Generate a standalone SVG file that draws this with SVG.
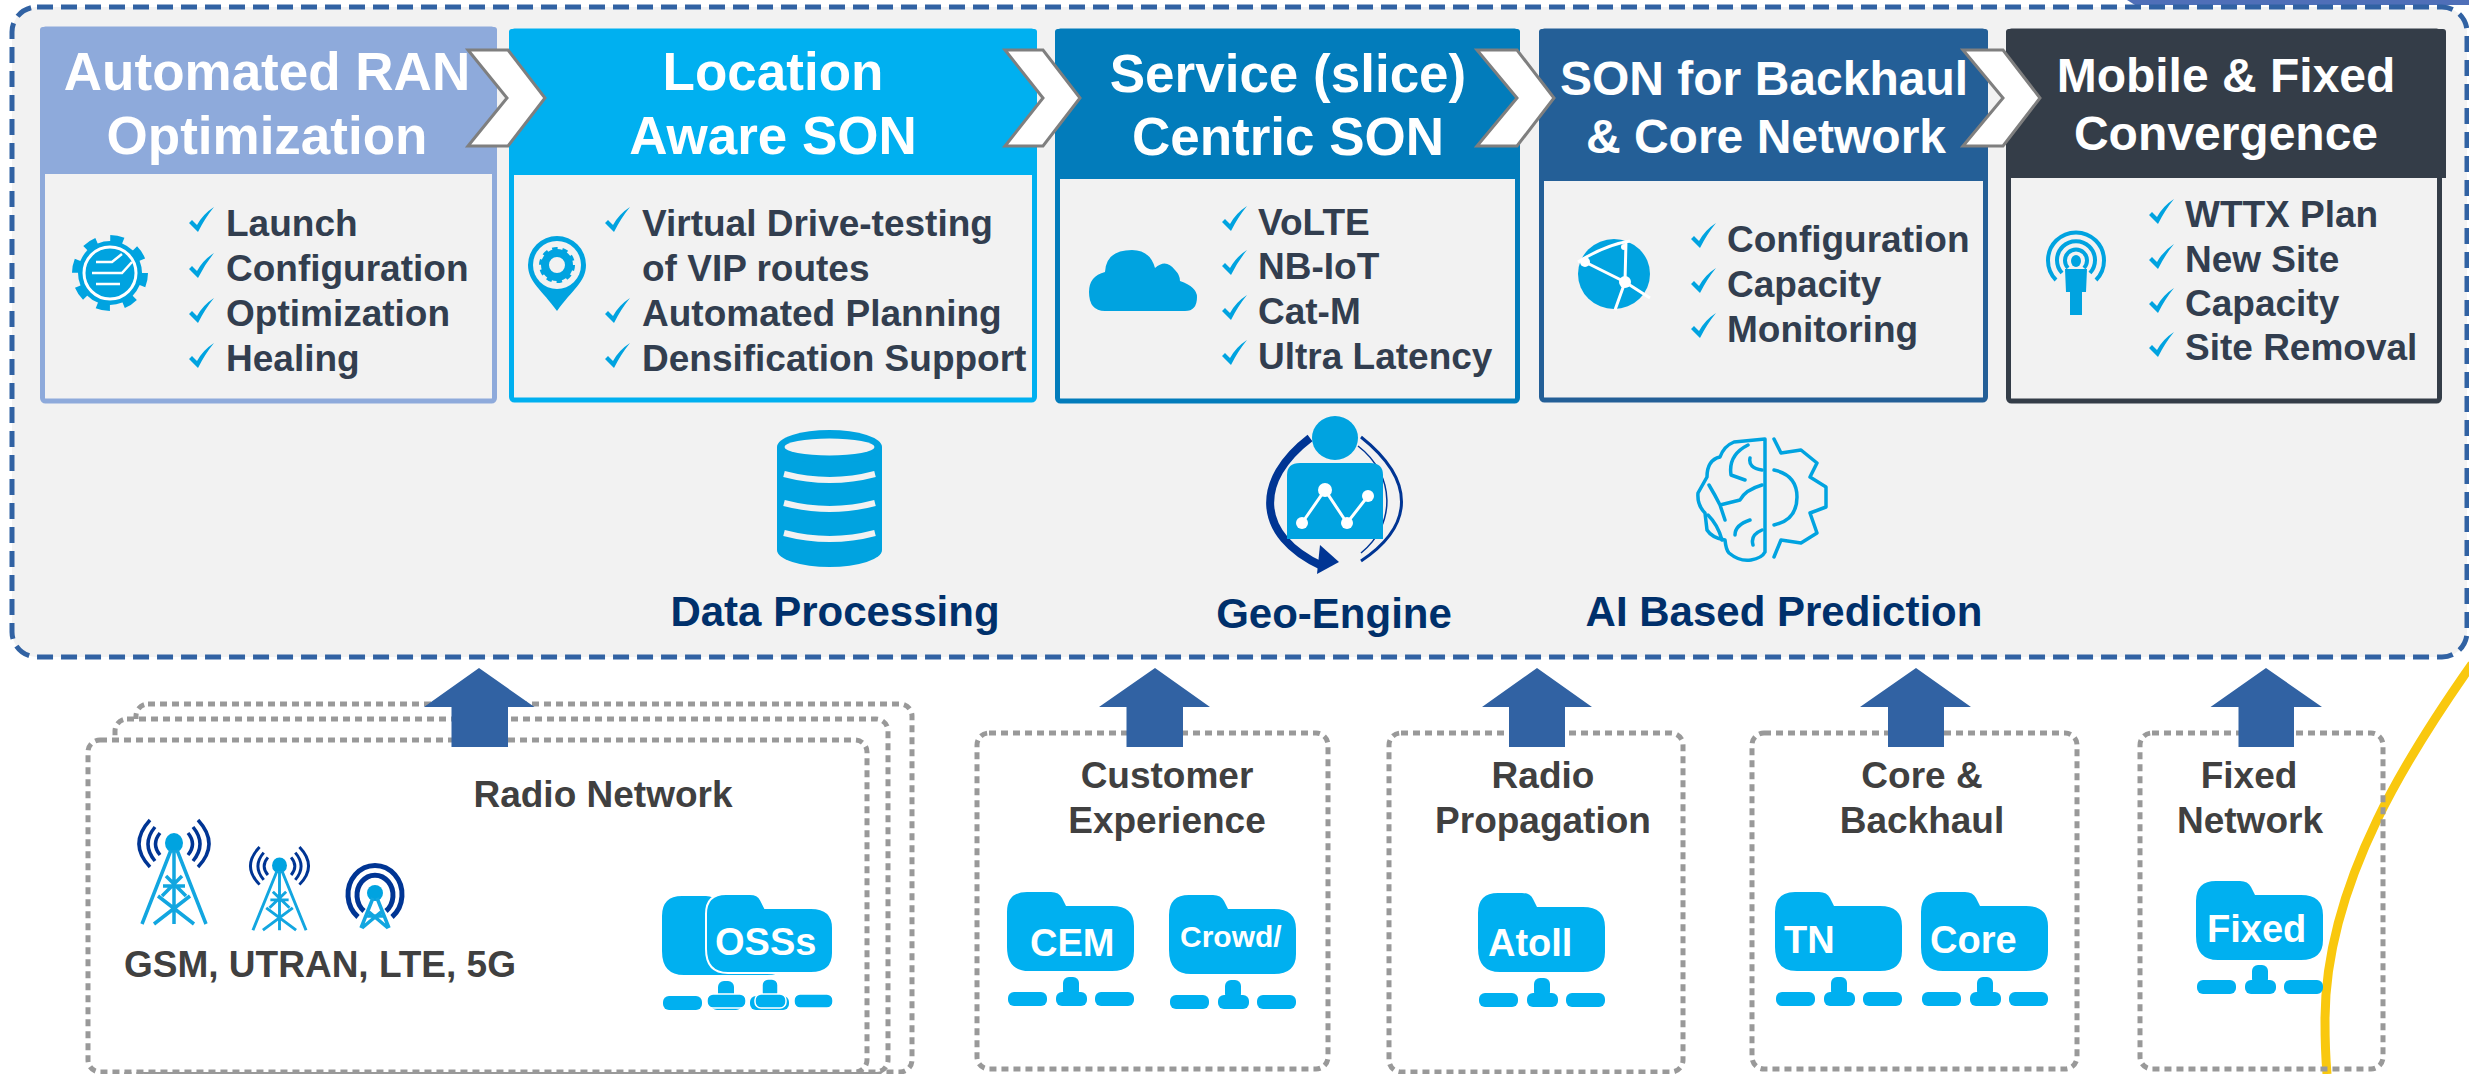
<svg xmlns="http://www.w3.org/2000/svg" xmlns:xlink="http://www.w3.org/1999/xlink" width="2469" height="1074" viewBox="0 0 2469 1074">
<style>
text{font-family:"Liberation Sans",Arial,sans-serif;font-weight:bold}
.t{fill:#fff;text-anchor:middle}
.s53{font-size:53px}.s49{font-size:48px}.s48{font-size:48px}
.li{font-size:37px;fill:#323E4F}
.lab{font-size:37px;fill:#404040;text-anchor:middle}
.mid{font-size:42px;fill:#00306B;text-anchor:middle}
.ft{font-size:38px;fill:#fff}
.box{fill:#fff;stroke:#999;stroke-width:5;stroke-dasharray:7 5}
.body{fill:#F2F2F2;stroke-width:5}
.chev{fill:#fff;stroke:#7F7F7F;stroke-width:3}
.arw{fill:#3162A3}
.blue{fill:#00A3E0}
.fold{fill:#00B0F0}
.ol{fill:none;stroke:#00A3E0;stroke-width:3.5;stroke-linejoin:round;stroke-linecap:round}
.dk{fill:none;stroke:#003594}
.wl{fill:none;stroke:#fff;stroke-width:3}
.tw{fill:none;stroke:#12A6E0;stroke-width:3.500}
</style>
<defs>
<path id="chk" fill="#00A3E0" d="M0 16L3 13L8 18Q14 7 25 0Q16 11 9 25Z"/>
<g id="folder" class="fold">
<path d="M0 20Q0 0 20 0H44Q52 0 55 6L59 14H105Q127 14 127 34V59Q127 79 105 79H22Q0 79 0 55Z"/>
</g>
<g id="bars" class="fold">
<rect x="1" y="100" width="39" height="14" rx="6"/><rect x="56" y="85" width="16" height="20" rx="6"/><rect x="49" y="100" width="31" height="14" rx="6"/><rect x="88" y="100" width="39" height="14" rx="6"/>
</g>
<g id="tower">
<path class="dk" stroke-width="3.5" d="M-24 0Q-46 24-24 47M-19 7Q-33 24-19 41M-14 13Q-23 24-14 35M24 0Q46 24 24 47M19 7Q33 24 19 41M14 13Q23 24 14 35"/>
<ellipse cx="0" cy="23" rx="9" ry="10" class="blue"/>
<path class="tw" d="M-3 30L-32 104M3 30L32 104M0 30V104M-11 66H11M-16 76L20 104M16 76L-20 104M-8 56L12 76M8 56L-12 76"/>
</g>
</defs>

<path d="M2127 0H2469V5H2135Z" fill="#4F6FB8"/>
<rect id="panel" x="12" y="7" width="2455" height="650" rx="25" fill="#F2F2F2" stroke="#3162A3" stroke-width="5" stroke-dasharray="16 8"/>
<path id="yellow-arc" d="M2472 664C2415 745 2325 880 2325 1020Q2325 1050 2327 1074" fill="none" stroke="#F9C80E" stroke-width="9"/>

<g id="card-ran">
<rect class="body" x="42.500" y="29" width="452" height="372" rx="3" stroke="#8EAADB"/>
<path d="M43 27H494Q497 27 497 30V174H40V30Q40 27 43 27Z" fill="#8EAADB"/>
<text class="t s53" x="267" y="90">Automated RAN</text><text class="t s53" x="267" y="154">Optimization</text>
<g id="icon-gear">
<circle cx="110" cy="273" r="34" fill="none" stroke="#00A3E0" stroke-width="8" stroke-dasharray="13 13.700"/>
<circle cx="110" cy="273" r="32" class="blue"/><circle cx="110" cy="273" r="26" fill="none" stroke="#fff" stroke-width="3"/>
<path fill="none" stroke="#fff" stroke-width="2.500" d="M96 262H112L122 254M92 273H122L132 262M96 284H120"/>
</g>
<g class="li"><text x="226" y="236">Launch</text><text x="226" y="281">Configuration</text><text x="226" y="326">Optimization</text><text x="226" y="371">Healing</text></g>
<use href="#chk" x="189" y="207"/><use href="#chk" x="189" y="253"/><use href="#chk" x="189" y="298"/><use href="#chk" x="189" y="343"/>
</g>

<g id="card-location">
<rect class="body" x="511.500" y="31" width="523" height="369" rx="3" stroke="#00B0F0"/>
<path d="M512 29H1034Q1037 29 1037 32V175H509V32Q509 29 512 29Z" fill="#00B0F0"/>
<text class="t s53" x="773" y="90">Location</text><text class="t s53" x="773" y="154">Aware SON</text>
<g id="icon-pin">
<path class="blue" d="M557 311C542 290 528 282 528 265A29 29 0 1 1 586 265C586 282 572 290 557 311Z"/>
<circle cx="557" cy="265" r="24" fill="#F2F2F2"/>
<circle cx="557" cy="265" r="15" fill="none" stroke="#00A3E0" stroke-width="6" stroke-dasharray="5 4.400"/>
<circle cx="557" cy="265" r="12" fill="none" stroke="#00A3E0" stroke-width="8"/>
</g>
<g class="li"><text x="642" y="236">Virtual Drive-testing</text><text x="642" y="281">of VIP routes</text><text x="642" y="326">Automated Planning</text><text x="642" y="371">Densification Support</text></g>
<use href="#chk" x="605" y="207"/><use href="#chk" x="605" y="298"/><use href="#chk" x="605" y="343"/>
</g>

<g id="card-service">
<rect class="body" x="1057.500" y="31" width="460" height="370" rx="3" stroke="#027CBB"/>
<path d="M1058 29H1517Q1520 29 1520 32V179H1055V32Q1055 29 1058 29Z" fill="#027CBB"/>
<text class="t s53" x="1288" y="92">Service (slice)</text><text class="t s53" x="1288" y="155">Centric SON</text>
<path id="icon-cloud" class="blue" d="M1105 311Q1089 311 1089 292Q1089 276 1105 272Q1106 250 1132 250Q1150 250 1155 268Q1166 258 1175 270Q1180 275 1180 281Q1197 287 1197 297Q1197 311 1185 311Z"/>
<g class="li"><text x="1258" y="235">VoLTE</text><text x="1258" y="279">NB-IoT</text><text x="1258" y="324">Cat-M</text><text x="1258" y="369">Ultra Latency</text></g>
<use href="#chk" x="1222" y="206"/><use href="#chk" x="1222" y="250"/><use href="#chk" x="1222" y="295"/><use href="#chk" x="1222" y="340"/>
</g>

<g id="card-backhaul">
<rect class="body" x="1541.500" y="31" width="444" height="369" rx="3" stroke="#245F97"/>
<path d="M1542 29H1985Q1988 29 1988 32V181H1539V32Q1539 29 1542 29Z" fill="#245F97"/>
<text class="t s49" x="1764" y="95">SON for Backhaul</text><text class="t s49" x="1766" y="153">&amp; Core Network</text>
<g id="icon-globe">
<ellipse cx="1614" cy="274" rx="36" ry="35" class="blue"/>
<path class="wl" d="M1578 262Q1605 245 1630 241M1585 262L1625 282L1615 310M1625 282L1650 298M1626 241L1625 282"/>
<circle cx="1585" cy="262" r="5" fill="#fff"/><circle cx="1625" cy="282" r="6" fill="#fff"/><circle cx="1624" cy="247" r="3" fill="#fff"/>
</g>
<g class="li"><text x="1727" y="252">Configuration</text><text x="1727" y="297">Capacity</text><text x="1727" y="342">Monitoring</text></g>
<use href="#chk" x="1691" y="223"/><use href="#chk" x="1691" y="268"/><use href="#chk" x="1691" y="313"/>
</g>

<g id="card-convergence">
<rect class="body" x="2008.500" y="31" width="431" height="370" rx="3" stroke="#343D48"/>
<path d="M2009 29H2443Q2446 29 2446 32V178H2006V32Q2006 29 2009 29Z" fill="#343D48"/>
<text class="t s48" x="2226" y="92">Mobile &amp; Fixed</text><text class="t s48" x="2226" y="150">Convergence</text>
<g id="icon-person">
<g fill="none" stroke="#00A3E0" stroke-width="4">
<path d="M2056 280A28 28 0 1 1 2096 280"/><path d="M2062 273A19 19 0 1 1 2090 273"/><path d="M2068 268A11 11 0 1 1 2084 268"/>
</g>
<ellipse cx="2076" cy="261" rx="5" ry="6" class="blue"/>
<path class="blue" d="M2065 269H2087L2086 292H2082V315H2070V292H2066Z"/>
</g>
<g class="li"><text x="2185" y="227">WTTX Plan</text><text x="2185" y="272">New Site</text><text x="2185" y="316">Capacity</text><text x="2185" y="360">Site Removal</text></g>
<use href="#chk" x="2149" y="199"/><use href="#chk" x="2149" y="244"/><use href="#chk" x="2149" y="288"/><use href="#chk" x="2149" y="332"/>
</g>

<g id="data-processing">
<rect class="blue" x="777" y="447" width="105" height="103"/>
<ellipse cx="829.500" cy="447" rx="52.500" ry="17" class="blue"/><ellipse cx="829.500" cy="550" rx="52.500" ry="17" class="blue"/>
<ellipse cx="829.500" cy="447" rx="45" ry="8.500" fill="#F2F2F2"/>
<path fill="none" stroke="#F2F2F2" stroke-width="6" d="M784 474Q830 486 875 474M784 503Q830 515 875 503M784 533Q830 545 875 533"/>
<text class="mid" x="835" y="626">Data Processing</text>
</g>

<g id="geo-engine">
<path class="dk" stroke-width="8" d="M1310 438C1255 480 1255 535 1322 566"/>
<path fill="#003594" d="M1320 545L1339 562L1317 574Z"/>
<path class="dk" stroke-width="3" d="M1361 437C1415 480 1415 525 1361 561"/>
<path class="dk" stroke-width="1.500" d="M1358 446C1396 475 1396 525 1361 553"/>
<ellipse cx="1335" cy="438" rx="23" ry="22" class="blue"/>
<path class="blue" d="M1287 475Q1287 463 1300 463H1370Q1383 463 1383 475V539H1287Z"/>
<path class="wl" d="M1302 523L1325 490L1347 523L1368 496"/>
<g fill="#fff"><circle cx="1325" cy="490" r="7"/><circle cx="1368" cy="496" r="6"/><circle cx="1302" cy="523" r="6"/><circle cx="1347" cy="523" r="6"/></g>
<text class="mid" x="1334" y="628">Geo-Engine</text>
</g>

<g id="ai-prediction">
<path class="ol" d="M1765 439L1734 442Q1724 446 1720 457Q1707 460 1707 477L1698 493Q1697 505 1705 513L1707 530Q1712 538 1725 540Q1726 550 1729 553Q1740 562 1751 560Q1762 558 1765 552ZM1765 439V552"/>
<path class="ol" d="M1774 439L1781 453L1801 450L1817 463L1810 477L1826 487V507L1810 513L1817 533L1801 543L1781 540L1774 557"/>
<path class="ol" d="M1774 470Q1797 475 1797 497Q1797 520 1774 525"/>
<path class="ol" d="M1748 445Q1728 455 1731 475L1745 480M1750 458Q1748 468 1762 470M1709 485Q1715 495 1720 505M1762 485Q1745 490 1740 500L1720 505L1725 520M1708 515Q1718 525 1722 540M1750 520Q1735 525 1735 535M1762 530Q1750 535 1753 545"/>
<text class="mid" x="1784" y="626">AI Based Prediction</text>
</g>

<g id="radio-network">
<rect class="box" x="136" y="704" width="776" height="368" rx="12"/>
<rect class="box" x="115" y="719" width="773" height="353" rx="12"/>
<rect class="box" x="88" y="740" width="779" height="332" rx="12"/>
<text class="lab" x="603" y="807">Radio Network</text>
<use href="#tower" transform="translate(174 820)"/>
<use href="#tower" transform="translate(279.500 847) scale(.83 .8)"/>
<g id="tower-small" transform="translate(375 868)">
<path class="dk" stroke-width="5" d="M-17 49A27 29 0 1 1 17 49M-11 43A18 20 0 1 1 11 43"/>
<circle cx="0" cy="25" r="8" class="blue"/>
<path class="tw" d="M-2 30L-14 60M2 30L14 60M-10 48H10M-13 60L6 44M13 60L-6 44"/>
</g>
<text class="lab" x="320" y="977">GSM, UTRAN, LTE, 5G</text>
<use href="#folder" x="662" y="896"/><use href="#bars" x="662" y="896"/>
<use href="#folder" x="706" y="894" stroke="#fff" stroke-width="2"/><use href="#bars" x="706" y="894" stroke="#fff" stroke-width="1.500"/>
<text class="ft" x="715" y="955">OSSs</text>
</g>

<g id="customer-experience">
<rect class="box" x="977" y="733" width="351" height="336" rx="12"/>
<text class="lab" x="1167" y="788">Customer</text><text class="lab" x="1167" y="833">Experience</text>
<use href="#folder" x="1007" y="892"/><use href="#bars" x="1007" y="892"/>
<text class="ft" x="1030" y="956">CEM</text>
<use href="#folder" x="1169" y="895"/><use href="#bars" x="1169" y="895"/>
<text class="ft" x="1180" y="947" style="font-size:30px">Crowd/</text>
</g>

<g id="radio-propagation">
<rect class="box" x="1389" y="733" width="294" height="339" rx="12"/>
<text class="lab" x="1543" y="788">Radio</text><text class="lab" x="1543" y="833">Propagation</text>
<use href="#folder" x="1478" y="893"/><use href="#bars" x="1478" y="893"/>
<text class="ft" x="1488" y="956">Atoll</text>
</g>

<g id="core-backhaul">
<rect class="box" x="1752" y="733" width="325" height="336" rx="12"/>
<text class="lab" x="1922" y="788">Core &amp;</text><text class="lab" x="1922" y="833">Backhaul</text>
<use href="#folder" x="1775" y="892"/><use href="#bars" x="1775" y="892"/>
<text class="ft" x="1784" y="953">TN</text>
<use href="#folder" x="1921" y="892"/><use href="#bars" x="1921" y="892"/>
<text class="ft" x="1930" y="953">Core</text>
</g>

<g id="fixed-network">
<rect x="2140" y="733" width="243" height="336" rx="12" fill="none" stroke="#999" stroke-width="5" stroke-dasharray="7 5"/>
<text class="lab" x="2249" y="788">Fixed</text><text class="lab" x="2250" y="833">Network</text>
<use href="#folder" x="2196" y="881"/><use href="#bars" x="2196" y="880"/>
<text class="ft" x="2207" y="942">Fixed</text>
</g>

<g id="connectors">
<path class="chev" d="M468 50H508L545 98L508 146H468L507 98Z"/>
<path class="chev" d="M1005 50H1043L1080 98L1043 146H1005L1043 98Z"/>
<path class="chev" d="M1477 50H1517L1554 98L1517 146H1477L1517 98Z"/>
<path class="chev" d="M1963 50H2003L2040 98L2003 146H1963L2003 98Z"/>
<path class="arw" d="M479 668L534.500 707H508V747H451.500V707H424Z"/>
<path class="arw" d="M1155 668L1210 707H1183V747H1126.500V707H1099Z"/>
<path class="arw" d="M1537 668L1592 707H1565V747H1509V707H1482Z"/>
<path class="arw" d="M1916 668L1971 707H1944V747H1888V707H1860Z"/>
<path class="arw" d="M2266 668L2322 707H2294V747H2238.500V707H2210.500Z"/>
</g>
</svg>
